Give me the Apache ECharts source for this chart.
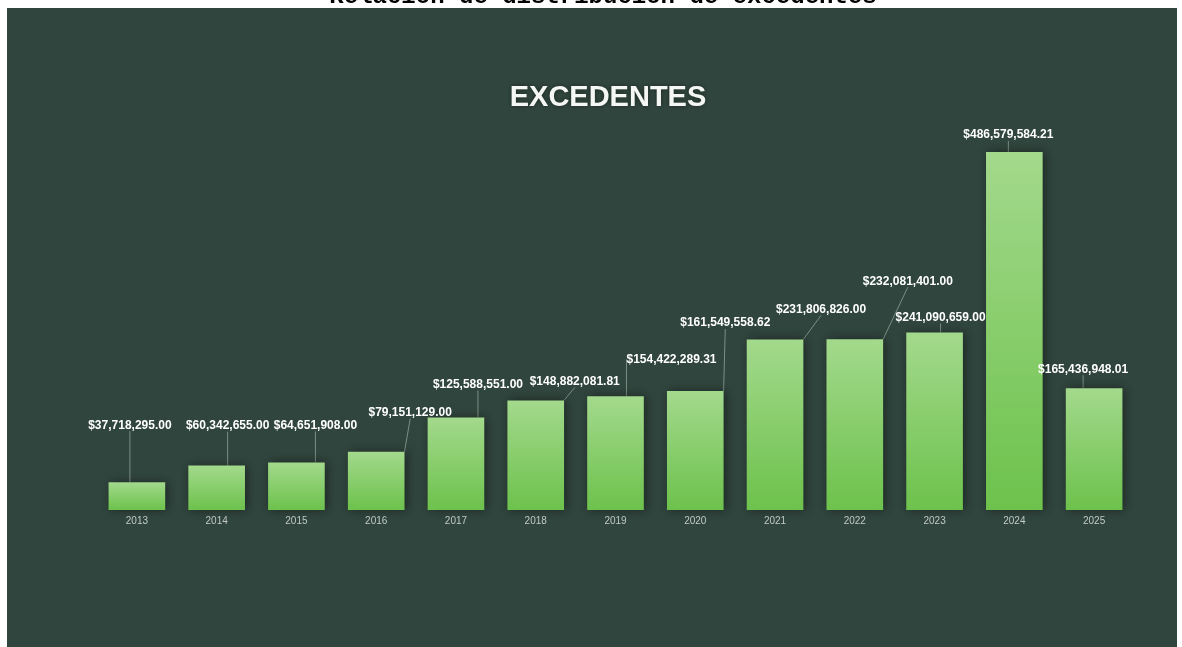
<!DOCTYPE html>
<html>
<head>
<meta charset="utf-8">
<title>Relación de distribución de excedentes</title>
<script src="https://cdn.jsdelivr.net/npm/echarts@6/dist/echarts.min.js"></script>
<style>
  html, body { margin: 0; padding: 0; background: #ffffff; }
  #chart { width: 1182px; height: 647px; }
</style>
</head>
<body>
<div id="chart"></div>
<script>
// Años y excedentes anuales
const years = ['2013', '2014', '2015', '2016', '2017', '2018', '2019', '2020', '2021', '2022', '2023', '2024', '2025'];
const surplus = [
  37718295.00, 60342655.00, 64651908.00, 79151129.00, 125588551.00,
  148882081.81, 154422289.31, 161549558.62, 231806826.00, 232081401.00,
  241090659.00, 486579584.21, 165436948.01
];

// Desplazamiento de cada etiqueta respecto a su barra (px), con línea guía
const labelShift = [
  [-7, -46], [11, -29], [19, -26], [34, -28], [22, -22], [39, -8], [56, -26],
  [30, -57], [46, -19], [53, -47], [6, -4], [-6, -6], [-11, -8]
];

const money = v => '$' + v.toLocaleString('en-US', { minimumFractionDigits: 2, maximumFractionDigits: 2 });

const chart = echarts.init(document.getElementById('chart'), null, { renderer: 'canvas' });

chart.setOption({
  backgroundColor: '#ffffff',
  animation: false,
  graphic: [
    {
      type: 'rect',
      z: -10,
      shape: { x: 7, y: 8, width: 1170, height: 639 },
      style: { fill: '#30453d' }
    },
    {
      type: 'text',
      z: -5,
      style: {
        text: 'Relación de distribución de excedentes',
        x: 603, y: -3,
        align: 'center', verticalAlign: 'middle',
        font: 'bold 24px "Liberation Mono", "DejaVu Sans Mono", monospace',
        fill: '#000000'
      }
    }
  ],
  title: {
    text: 'EXCEDENTES',
    left: 603,
    textAlign: 'center',
    top: 78,
    textStyle: {
      color: '#f4f7f3',
      fontFamily: '"Liberation Sans", Arial, sans-serif',
      fontWeight: 'bold',
      fontSize: 29,
      textShadowColor: 'rgba(0,0,0,0.45)',
      textShadowBlur: 4
    }
  },
  grid: { left: 97, right: 48, top: 142, bottom: 137 },
  xAxis: {
    type: 'category',
    data: years,
    axisLine: { show: false },
    axisTick: { show: false },
    axisLabel: {
      color: '#c3ccc6',
      fontSize: 10,
      margin: 6,
      fontFamily: '"Liberation Sans", Arial, sans-serif'
    }
  },
  yAxis: {
    type: 'value',
    min: 0,
    max: 500000000,
    show: false,
    splitLine: { show: false }
  },
  series: [{
    type: 'bar',
    data: surplus,
    barWidth: '71%',
    itemStyle: {
      color: new echarts.graphic.LinearGradient(0, 0, 0, 1, [
        { offset: 0, color: '#a3d98c' },
        { offset: 1, color: '#6dc24c' }
      ]),
      shadowColor: 'rgba(0,0,0,0.45)',
      shadowBlur: 10,
      shadowOffsetX: 2,
      shadowOffsetY: 0
    },
    label: {
      show: true,
      position: 'top',
      distance: 5,
      color: '#ffffff',
      fontSize: 12,
      fontWeight: 'bold',
      fontFamily: '"Liberation Sans", Arial, sans-serif',
      formatter: p => money(p.value)
    },
    labelLine: {
      show: true,
      lineStyle: { color: '#7d8f85', width: 1 }
    },
    labelLayout: params => {
      const s = labelShift[params.dataIndex];
      return { dx: s[0], dy: s[1] };
    }
  }]
});
</script>
</body>
</html>
